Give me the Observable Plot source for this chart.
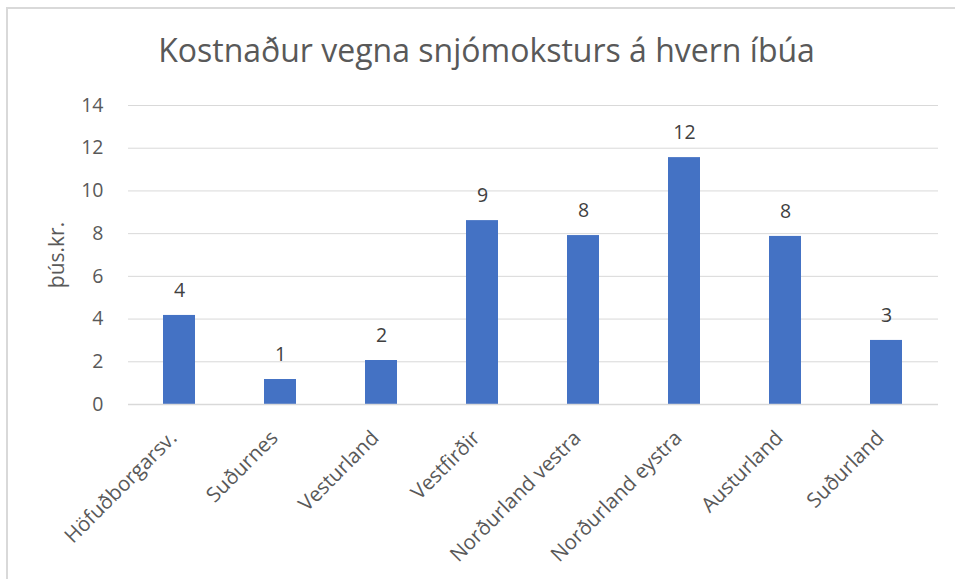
<!DOCTYPE html>
<html>
<head>
<meta charset="utf-8">
<script src="https://cdn.jsdelivr.net/npm/d3@7"></script>
<script src="https://cdn.jsdelivr.net/npm/@observablehq/plot@0.6"></script>
<style>
  html, body { margin: 0; padding: 0; background: #fff; }
  #wrap { position: relative; width: 955px; height: 579px; overflow: hidden; font-family: "Open Sans", sans-serif; }
  #frame { position: absolute; left: 6px; top: 7px; width: 1000px; height: 1000px; border-left: 2px solid #d9d9d9; border-top: 2px solid #d9d9d9; box-sizing: border-box; }
  #title { position: absolute; left: 0; top: 28px; width: 973px; text-align: center; font-size: 32px; line-height: 44px; color: #595959; }
  #chart { position: absolute; left: 0; top: 80px; }
</style>
</head>
<body>
<div id="wrap">
  <div id="frame"></div>
  <div id="title">Kostnaður vegna snjómoksturs á hvern íbúa</div>
  <div id="chart"></div>
</div>
<script>
const regions = ["Höfuðborgarsv.", "Suðurnes", "Vesturland", "Vestfirðir", "Norðurland vestra", "Norðurland eystra", "Austurland", "Suðurland"];
const values = [4.17, 1.17, 2.06, 8.61, 7.91, 11.56, 7.87, 3.0];
const yTicks = [0, 2, 4, 6, 8, 10, 12, 14];

const data = regions.map((r, i) => ({region: r, value: values[i]}));

const chart = Plot.plot({
  width: 955,
  height: 499,
  marginTop: 25,
  marginBottom: 175,
  marginLeft: 128,
  marginRight: 17,
  style: {fontFamily: "Open Sans, sans-serif", fontSize: "19px", color: "#595959", background: "transparent"},
  x: {domain: regions, paddingInner: 0.68, paddingOuter: 0.34, label: null},
  y: {domain: [0, 14], ticks: yTicks, label: null},
  marks: [
    Plot.gridY(yTicks, {stroke: "#d9d9d9", strokeOpacity: 1, strokeWidth: 1}),
    Plot.barY(data, {x: "region", y: "value", fill: "#4472c4"}),
    Plot.ruleY([0], {stroke: "#d9d9d9", strokeWidth: 1.5}),
    Plot.text(data, {x: "region", y: "value", text: d => String(Math.round(d.value)), dy: -25, fontSize: 19.5, fill: "#404040"}),
    Plot.axisY(yTicks, {tickSize: 0, tickPadding: 25, fontSize: 19.5, fill: "#595959", label: null}),
    Plot.axisX({tickSize: 0, tickRotate: -45, tickPadding: 30, dx: -6, fontSize: 20.5, fill: "#595959", label: null}),
    Plot.text(["þús.kr."], {frameAnchor: "left", textAnchor: "middle", dx: -71, rotate: -90, fontSize: 21, fill: "#595959"})
  ]
});
document.getElementById("chart").appendChild(chart);
</script>
</body>
</html>
